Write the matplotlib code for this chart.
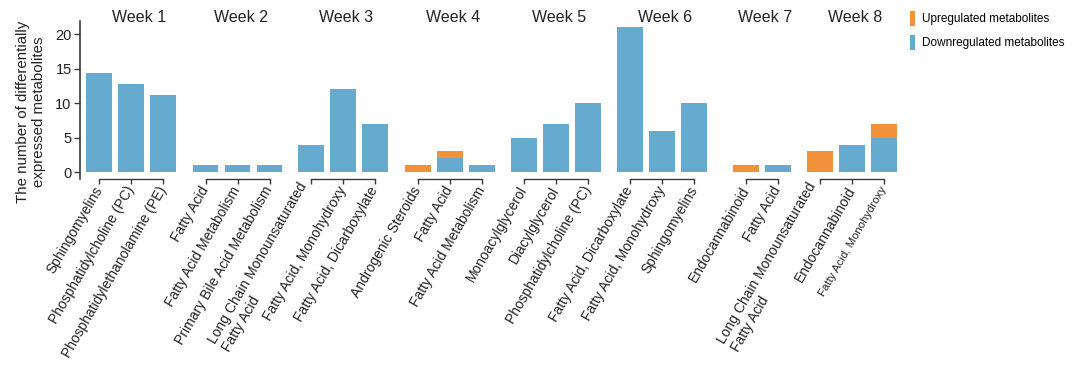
import matplotlib
matplotlib.use("Agg")
import matplotlib.pyplot as plt
from matplotlib.patches import Patch
from matplotlib.transforms import blended_transform_factory

plt.rcParams['font.family'] = ['Liberation Sans', 'DejaVu Sans']

weeks = ["Week 1", "Week 2", "Week 3", "Week 4", "Week 5", "Week 6", "Week 7", "Week 8"]
categories = [
    ["Sphingomyelins", "Phosphatidylcholine (PC)", "Phosphatidylethanolamine (PE)"],
    ["Fatty Acid", "Fatty Acid Metabolism", "Primary Bile Acid Metabolism"],
    ["Long Chain Monounsaturated\nFatty Acid", "Fatty Acid, Monohydroxy", "Fatty Acid, Dicarboxylate"],
    ["Androgenic Steroids", "Fatty Acid", "Fatty Acid Metabolism"],
    ["Monoacylglycerol", "Diacylglycerol", "Phosphatidylcholine (PC)"],
    ["Fatty Acid, Dicarboxylate", "Fatty Acid, Monohydroxy", "Sphingomyelins"],
    ["Endocannabinoid", "Fatty Acid"],
    ["Long Chain Monounsaturated\nFatty Acid", "Endocannabinoid", "Fatty Acid, Monohydroxy"],
]
down = [
    [14.4, 12.8, 11.2],
    [1, 1, 1],
    [4, 12, 7],
    [0, 2, 1],
    [5, 7, 10],
    [21, 6, 10],
    [0, 1],
    [0, 4, 5],
]
up = [
    [0, 0, 0],
    [0, 0, 0],
    [0, 0, 0],
    [1, 1, 0],
    [0, 0, 0],
    [0, 0, 0],
    [1, 0],
    [3, 0, 2],
]

C_UP = "#F1923A"
C_DOWN = "#67AAD0"
SPINE = "#3a3a3a"

W, H = 1080, 371
fig = plt.figure(figsize=(W / 100, H / 100), dpi=100)

unit = 32.0
lefts_px = [80, 189.5, 295, 401.7, 508, 614, 730, 804]
top_px, bot_px = 20.7, 179.0
ylo, yhi = -1.0, 21.95

for i, (wk, cats, d, u) in enumerate(zip(weeks, categories, down, up)):
    n = len(cats)
    x0 = -0.6 if i == 0 else -0.5
    width_px = (n - 0.5 - x0) * unit
    ax = fig.add_axes([lefts_px[i] / W, 1 - bot_px / H, width_px / W, (bot_px - top_px) / H])
    xs = list(range(n))
    ax.bar(xs, d, width=0.8, color=C_DOWN, linewidth=0)
    ax.bar(xs, u, width=0.8, bottom=d, color=C_UP, linewidth=0)
    ax.set_xlim(x0, n - 0.5)
    ax.set_ylim(ylo, yhi)
    for s in ["top", "right"]:
        ax.spines[s].set_visible(False)
    ax.spines["bottom"].set_bounds(0, n - 1)
    ax.spines["bottom"].set_color(SPINE)
    ax.spines["bottom"].set_linewidth(1.0)
    ax.set_xticks(xs)
    ax.tick_params(axis="x", direction="out", length=3.5, width=1.0, color=SPINE, pad=2.5)
    fs = [10] * n
    if i == 7:
        fs[2] = 8.2
    ax.set_xticklabels(cats)
    for lab, f in zip(ax.get_xticklabels(), fs):
        lab.set_rotation(60)
        lab.set_ha("right")
        lab.set_va("center")
        lab.set_rotation_mode("anchor")
        lab.set_multialignment("left")
        lab.set_fontsize(f)
        lab.set_color("#222222")
    if i == 0:
        ax.spines["left"].set_color(SPINE)
        ax.spines["left"].set_linewidth(1.2)
        ax.set_yticks([0, 5, 10, 15, 20])
        ax.tick_params(axis="y", direction="out", length=4, width=1.0, color=SPINE,
                       labelsize=10.5, labelcolor="#222222", pad=2)
    else:
        ax.spines["left"].set_visible(False)
        ax.set_yticks([])
    tr = blended_transform_factory(ax.transData, fig.transFigure)
    ax.text((n - 1) / 2 + (0.25 if i == 0 else 0.1), 1 - 18 / H, wk, transform=tr,
            ha="center", va="center", fontsize=11.5, color="#222222")

fig.text(31 / W, 1 - 112 / H, "The number of differentially\nexpressed metabolites",
         rotation=90, ha="center", va="center", multialignment="center",
         fontsize=10.8, color="#222222", linespacing=1.25)

handles = [Patch(facecolor=C_UP, edgecolor="none"), Patch(facecolor=C_DOWN, edgecolor="none")]
fig.legend(handles, ["Upregulated metabolites", "Downregulated metabolites"],
           loc="upper left", bbox_to_anchor=(910 / W, 1 - 11 / H), frameon=False,
           fontsize=8.5, handlelength=0.45, handleheight=1.6, handletextpad=0.6,
           labelspacing=0.75, borderaxespad=0, borderpad=0)

fig.savefig("out.png", dpi=100)
